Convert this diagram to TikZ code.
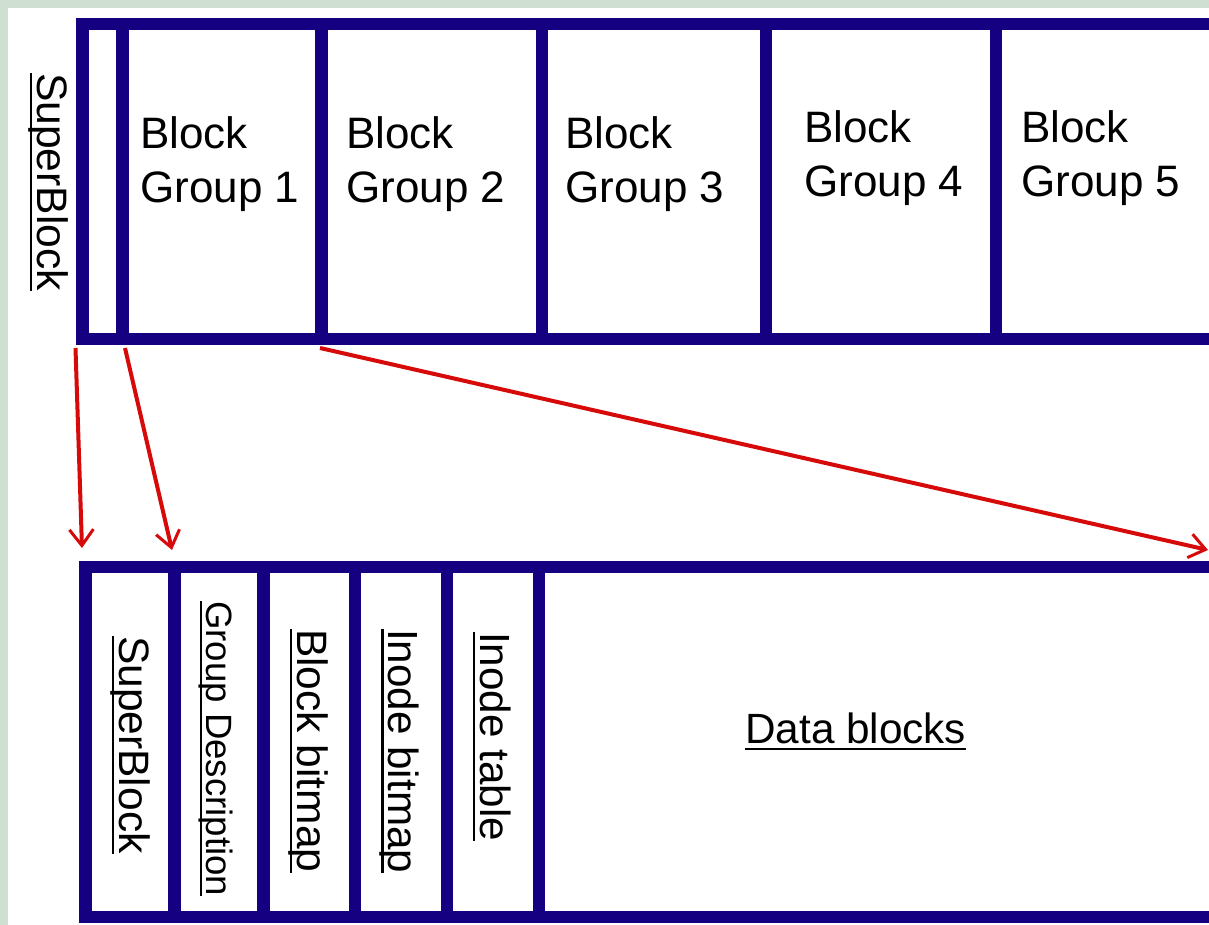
\documentclass[tikz,border=0pt]{standalone}
\usepackage{fontspec}
\setmainfont{Liberation Sans}
\usetikzlibrary{arrows.meta}
\definecolor{navy}{RGB}{20,0,128}
\definecolor{arrowred}{RGB}{215,10,10}
\definecolor{bggreen}{RGB}{207,223,209}
\newsavebox\ulbox
\newcommand\ulx[1]{\sbox\ulbox{#1}\rlap{\rule[-0.175em]{\wd\ulbox}{0.065em}}\usebox\ulbox}
\begin{document}
\begin{tikzpicture}[x=1pt,y=-1pt,
  cell/.style={draw=navy,line width=12.5pt,inner sep=0pt,outer sep=0pt,rectangle},
  vlabel/.style={rotate=-90,anchor=base west,inner sep=0pt,text=black},
  hlabel/.style={anchor=north west,inner sep=0pt,align=left,text=black,font=\fontsize{44}{54}\selectfont},
  link/.style={draw=arrowred,line width=4pt,-{Straight Barb[length=16pt,width=24pt,line width=3pt]}}]
\useasboundingbox (0,0) rectangle (1209,925);
\clip (0,0) rectangle (1209,925);
\fill[bggreen] (0,0) rectangle (1209,925);
\fill[white] (8,8) rectangle (1209,925);

% top bar
\node[cell,minimum width=40pt,minimum height=315pt] (tsb) at (102.5,181.5) {};
\node[cell,minimum width=199pt,minimum height=315pt] (bg1) at (222,181.5) {};
\node[cell,minimum width=220.5pt,minimum height=315pt] (bg2) at (431.75,181.5) {};
\node[cell,minimum width=224pt,minimum height=315pt] (bg3) at (654,181.5) {};
\node[cell,minimum width=230pt,minimum height=315pt] (bg4) at (881,181.5) {};
\node[cell,minimum width=244pt,minimum height=315pt] (bg5) at (1118,181.5) {};

% bottom bar
\node[cell,minimum width=89pt,minimum height=350pt] (bsb) at (130,742) {};
\node[cell,minimum width=89pt,minimum height=350pt] (bgd) at (219,742) {};
\node[cell,minimum width=91.5pt,minimum height=350pt] (bbb) at (309.25,742) {};
\node[cell,minimum width=92pt,minimum height=350pt] (bib) at (401,742) {};
\node[cell,minimum width=92pt,minimum height=350pt] (bit) at (493,742) {};
\node[cell,minimum width=701pt,minimum height=350pt] (bdb) at (889.5,742) {};

% top labels
\node[vlabel,font=\fontsize{42.6}{50}\selectfont] (tsbl) at (37,73) {\ulx{SuperBlock}};
\node[hlabel] (bg1l) at (140,116) {Block\\Group 1};
\node[hlabel] (bg2l) at (346,116) {Block\\Group 2};
\node[hlabel] (bg3l) at (565,116) {Block\\Group 3};
\node[hlabel] (bg4l) at (804,110) {Block\\Group 4};
\node[hlabel] (bg5l) at (1021,110) {Block\\Group 5};

% bottom labels
\node[vlabel,font=\fontsize{42.5}{50}\selectfont] (bsbl) at (119,636) {\ulx{SuperBlock}};
\node[vlabel,font=\fontsize{36.6}{44}\selectfont] (bgdl) at (206,601) {\ulx{Group Description}};
\node[vlabel,font=\fontsize{42.5}{50}\selectfont] (bbbl) at (297,629) {\ulx{Block bitmap}};
\node[vlabel,font=\fontsize{42.2}{50}\selectfont] (bibl) at (388.5,629) {\ulx{Inode bitmap}};
\node[vlabel,font=\fontsize{42.2}{50}\selectfont] (bitl) at (480,632) {\ulx{Inode table}};
\node[anchor=base west,inner sep=0pt,font=\fontsize{42.3}{50}\selectfont] (bdbl) at (745,743) {\ulx{Data blocks}};

% connectors
\coordinate (dataend) at (1208,550);
\draw[link] ([shift={(-7,9)}]tsb.south west) -- ([shift={(-3.5,-19)}]bsb.north west);
\draw[link] ([shift={(2.5,9)}]bg1.south west) -- ([shift={(-2.5,-17)}]bsb.north east);
\draw[link] ([shift={(-1.5,9)}]bg1.south east) -- (dataend);
\end{tikzpicture}
\end{document}
